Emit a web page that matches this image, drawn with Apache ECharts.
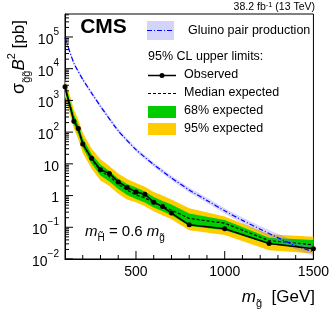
<!DOCTYPE html>
<html><head><meta charset="utf-8">
<script src="https://cdn.jsdelivr.net/npm/echarts@6/dist/echarts.min.js"></script>
<style>html,body{margin:0;padding:0;background:#fff}#c{width:332px;height:310px}</style>
</head><body><div id="c"></div>
<script>
// ---- data ----
const limitMass = [100,150,175,200,250,300,350,400,450,500,550,600,650,700,800,1000,1250,1500];
const observed  = [2700,220,130,42,15,6.5,5.0,2.7,1.8,1.3,1.1,0.62,0.45,0.28,0.12,0.09,0.031,0.021];
const expMedian = [2500,250,120,45,14,6.0,4.0,2.3,1.5,1.05,0.85,0.6,0.45,0.35,0.19,0.135,0.038,0.028];
const exp68Lo   = [1800,175,85,32,10,4.3,2.8,1.6,1.05,0.78,0.6,0.42,0.32,0.24,0.11,0.081,0.029,0.021];
const exp68Hi   = [3600,360,175,65,20,9.5,6.0,3.4,2.3,1.8,1.35,0.9,0.68,0.52,0.27,0.17,0.047,0.040];
const exp95Lo   = [1300,130,60,22,7,3.0,2.0,1.15,0.75,0.62,0.46,0.32,0.24,0.18,0.08,0.057,0.019,0.015];
const exp95Hi   = [5000,520,250,95,30,14,8.5,5.0,3.3,2.5,1.9,1.3,1.0,0.75,0.40,0.22,0.06,0.05];

const gluinoMass = [100,150,200,250,300,400,500,600,700,800,900,1000,1100,1200,1300,1400,1500];
const gluinoXsec = [95000,15000,4600,1700,650,110,28,9.5,3.6,1.5,0.70,0.33,0.165,0.087,0.047,0.026,0.017];
const gluinoLo   = [83000,13100,4000,1480,565,95,24,8.1,3.05,1.25,0.58,0.27,0.13,0.068,0.036,0.0195,0.0125];
const gluinoHi   = [108000,17000,5250,1950,750,127,32.5,11.1,4.25,1.8,0.85,0.40,0.205,0.11,0.061,0.035,0.024];

const xTickMajor = [500,1000,1500];
const xTickMinor = [200,300,400,600,700,800,900,1100,1200,1300,1400];
const yDecades = [-2,-1,0,1,2,3,4,5];

const FONT = 'Liberation Sans, Arial, Helvetica, sans-serif';

function pairs(xs, ys){ return xs.map((x,i)=>[x, ys[i]]); }

function bandSeries(name, xs, lo, hi, color, z){
  return {
    type:'custom', name:name, z:z, clip:true, silent:true,
    encode:{x:0,y:1},
    data: xs.map((x,i)=>[x, lo[i], hi[i]]),
    renderItem:function(params, api){
      if (params.dataIndex !== 0) return null;
      const pts = [];
      for (let i=0;i<xs.length;i++) pts.push(api.coord([xs[i], hi[i]]));
      for (let i=xs.length-1;i>=0;i--) pts.push(api.coord([xs[i], lo[i]]));
      return {type:'polygon', shape:{points:pts}, style:{fill:color, stroke:null}};
    }
  };
}

const tickSeries = {
  type:'custom', z:10, silent:true, clip:false,
  encode:{x:0,y:1},
  data:[[1000,1]],
  renderItem:function(params, api){
    const els = [];
    const st = {stroke:'#000', lineWidth:1};
    xTickMajor.forEach(v=>{ const p=api.coord([v,0.01]); els.push({type:'line',shape:{x1:p[0],y1:p[1],x2:p[0],y2:p[1]-8},style:st}); });
    xTickMinor.forEach(v=>{ const p=api.coord([v,0.01]); els.push({type:'line',shape:{x1:p[0],y1:p[1],x2:p[0],y2:p[1]-4},style:st}); });
    yDecades.forEach(d=>{
      const p=api.coord([100, Math.pow(10,d)]);
      els.push({type:'line',shape:{x1:p[0],y1:p[1],x2:p[0]+8,y2:p[1]},style:st});
      for (let k=2;k<=9;k++){
        const v = k*Math.pow(10,d);
        if (v > 5.3e5) continue;
        const q=api.coord([100, v]);
        els.push({type:'line',shape:{x1:q[0],y1:q[1],x2:q[0]+4,y2:q[1]},style:st});
      }
    });
    return {type:'group', children:els};
  }
};

function decLabel(v){
  const e = Math.round(Math.log10(v));
  if (Math.abs(Math.log10(v)-e) > 1e-6) return '';
  if (e===0) return '{b|1}';
  if (e===1) return '{b|10}';
  return '{b|10}{e|' + (e<0 ? '\u2212'+(-e) : e) + '}';
}

const LF = '12.5px ' + FONT;

const chart = echarts.init(document.getElementById('c'), null, {renderer:'canvas'});
chart.setOption({
  animation:false,
  backgroundColor:'#fff',
  grid:{left:65, right:16, top:14, bottom:51, show:true, borderColor:'#000', borderWidth:1, backgroundColor:'transparent'},
  xAxis:{type:'value', min:100, max:1500, interval:100,
    axisLine:{lineStyle:{color:'#000'}}, axisTick:{show:false}, splitLine:{show:false},
    axisLabel:{color:'#000', fontFamily:FONT, fontSize:14, margin:6,
      formatter:v=> (v%500===0 ? String(v) : '')}},
  yAxis:{type:'log', logBase:10, min:0.01, max:5.3e5, interval:1,
    axisLine:{show:true, lineStyle:{color:'#000'}}, axisTick:{show:false}, splitLine:{show:false},
    axisLabel:{color:'#000', fontFamily:FONT, margin:6, formatter:decLabel,
      rich:{b:{fontSize:14, fontFamily:FONT, color:'#000', lineHeight:20, verticalAlign:'bottom'},
            e:{fontSize:10, fontFamily:FONT, color:'#000', lineHeight:20, verticalAlign:'top'}}}},
  series:[
    bandSeries('95% expected', limitMass, exp95Lo, exp95Hi, '#ffcc00', 1),
    bandSeries('68% expected', limitMass, exp68Lo, exp68Hi, '#00cc00', 2),
    {type:'line', name:'Median expected', z:3, data:pairs(limitMass, expMedian), symbol:'none',
      lineStyle:{color:'#000', width:1.2, type:[3,2]}},
    bandSeries('Gluino band', gluinoMass, gluinoLo, gluinoHi, 'rgba(120,120,255,0.30)', 4),
    {type:'line', name:'Gluino pair production', z:5, data:pairs(gluinoMass, gluinoXsec), symbol:'none', smooth:0.2,
      lineStyle:{color:'#0000ff', width:1.2, type:[5,2,1,2]}},
    {type:'line', name:'Observed', z:6, data:pairs(limitMass, observed), symbol:'circle', symbolSize:5,
      itemStyle:{color:'#000'}, lineStyle:{color:'#000', width:1.5}},
    tickSeries
  ],
  graphic:[
    {type:'text', x:103.5, y:27.5, style:{text:'CMS', font:'bold 21px '+FONT, fill:'#000', align:'center', verticalAlign:'middle'}},
    {type:'text', x:315, y:7, style:{text:'{a|38.2 fb}{s|-1}{a| (13 TeV)}', align:'right', verticalAlign:'middle',
      rich:{a:{fontSize:10.5, fontFamily:FONT, fill:'#000', lineHeight:12, verticalAlign:'bottom'}, s:{fontSize:7.5, fontFamily:FONT, fill:'#000', lineHeight:12, verticalAlign:'top'}}}},
    // legend
    {type:'rect', shape:{x:147, y:21, width:27, height:19}, style:{fill:'#d4d4fa'}},
    {type:'line', shape:{x1:147, y1:30.5, x2:174, y2:30.5}, style:{stroke:'#0000ff', lineWidth:1.2, lineDash:[5,2,1,2]}},
    {type:'text', x:188, y:31, style:{text:'Gluino pair production', font:LF, fill:'#000', verticalAlign:'middle'}},
    {type:'text', x:148, y:57, style:{text:'95% CL upper limits:', font:LF, fill:'#000', verticalAlign:'middle'}},
    {type:'line', shape:{x1:148, y1:75.5, x2:176, y2:75.5}, style:{stroke:'#000', lineWidth:1.5}},
    {type:'circle', shape:{cx:162, cy:75.5, r:2.5}, style:{fill:'#000'}},
    {type:'text', x:184, y:75, style:{text:'Observed', font:LF, fill:'#000', verticalAlign:'middle'}},
    {type:'line', shape:{x1:148, y1:93.5, x2:176, y2:93.5}, style:{stroke:'#000', lineWidth:1.2, lineDash:[3,2]}},
    {type:'text', x:184, y:93, style:{text:'Median expected', font:LF, fill:'#000', verticalAlign:'middle'}},
    {type:'rect', shape:{x:148, y:106, width:28, height:12}, style:{fill:'#00cc00'}},
    {type:'text', x:184, y:111, style:{text:'68% expected', font:LF, fill:'#000', verticalAlign:'middle'}},
    {type:'rect', shape:{x:148, y:123, width:28, height:12}, style:{fill:'#ffcc00'}},
    {type:'text', x:184, y:129, style:{text:'95% expected', font:LF, fill:'#000', verticalAlign:'middle'}},
    // annotation
    {type:'text', x:85, y:232, style:{text:'{m|m}{s|H\u0303}{t| = 0.6 }{m|m}{s|g\u0303}', verticalAlign:'middle',
      rich:{m:{font:'italic 15px '+FONT, fill:'#000', lineHeight:22, verticalAlign:'middle'},
            t:{font:'15px '+FONT, fill:'#000', lineHeight:22, verticalAlign:'middle'},
            s:{font:'10px '+FONT, fill:'#000', lineHeight:22, verticalAlign:'bottom'}}}},
    // x axis title
    {type:'text', x:315, y:297, style:{text:'{m|m}{s|g\u0303}{t|  [GeV]}', align:'right', verticalAlign:'middle',
      rich:{m:{font:'italic 17px '+FONT, fill:'#000', lineHeight:24, verticalAlign:'middle'},
            t:{font:'17px '+FONT, fill:'#000', lineHeight:24, verticalAlign:'middle'},
            s:{font:'11px '+FONT, fill:'#000', lineHeight:24, verticalAlign:'bottom'}}}},
    // y axis title
    {type:'text', x:19, y:57, rotation:Math.PI/2, style:{text:'{m|\u03c3}{s|g\u0303g\u0303}{b|B}{p|2}{t| [pb]}', align:'center', verticalAlign:'middle',
      rich:{m:{font:'18px '+FONT, fill:'#000', lineHeight:26, verticalAlign:'middle'},
            b:{font:'italic 17px '+FONT, fill:'#000', lineHeight:26, verticalAlign:'middle'},
            t:{font:'17px '+FONT, fill:'#000', lineHeight:26, verticalAlign:'middle'},
            s:{font:'11px '+FONT, fill:'#000', lineHeight:26, verticalAlign:'bottom'},
            p:{font:'11px '+FONT, fill:'#000', lineHeight:26, verticalAlign:'top'}}}}
  ]
});
</script></body></html>
